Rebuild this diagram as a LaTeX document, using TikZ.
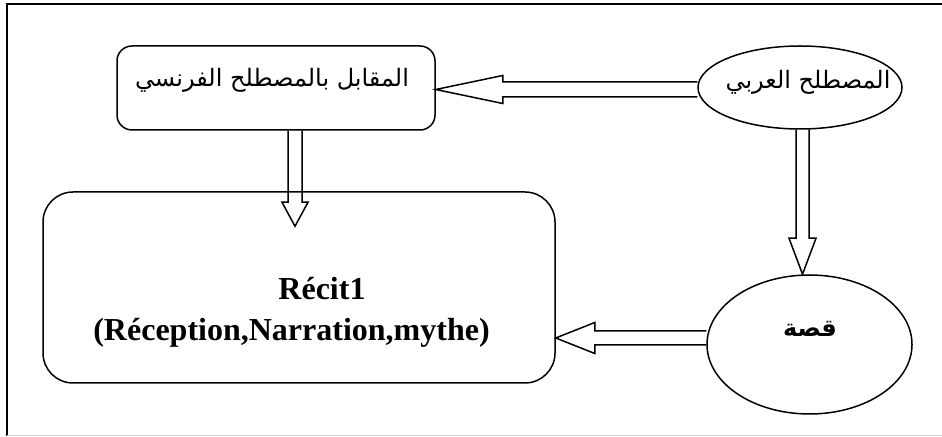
\documentclass[tikz,border=0pt]{standalone}
\usepackage{fontspec}
\setmainfont{Liberation Serif}
\newfontfamily\arabicfont[Script=Arabic]{DejaVu Sans}
\TeXXeTstate=1
\usetikzlibrary{calc,shapes.geometric}

\tikzset{
    shapeline/.style={draw, line width=0.75pt},
    termbox/.style={shapeline, rectangle, rounded corners=7.5pt, minimum width=159pt, minimum height=42pt},
    bigbox/.style={shapeline, rectangle, rounded corners=15pt, minimum width=256pt, minimum height=95.5pt},
    termell/.style={shapeline, ellipse, inner sep=0pt},
    arrowline/.style={line width=0.75pt, line join=miter},
    artext/.style={font=\arabicfont\fontsize{12}{14}\selectfont, inner sep=0pt},
    frtext/.style={font=\bfseries\fontsize{16}{19}\selectfont, inner sep=0pt}
}

% hollow block arrow: start, tip, head length, shaft half width, head half width
\newcommand{\hollowarrow}[5]{%
    \coordinate (hb) at ($(#2)!#3!(#1)$);
    \draw[arrowline] ($(#1)!#4!90:(#2)$) -- ($(hb)!#4!90:(#2)$) -- ($(hb)!#5!90:(#2)$)
        -- (#2) -- ($(hb)!#5!-90:(#2)$) -- ($(hb)!#4!-90:(#2)$) -- ($(#1)!#4!-90:(#2)$);
}

\begin{document}
\begin{tikzpicture}[x=0.5pt, y=-0.5pt]
    \useasboundingbox (0,0) rectangle (942,437);

    % Draw frame
    \draw[line width=1pt] (6.5,436) -- (6.5,4) -- (942,4);
    \draw[gray!35, line width=0.5pt] (6.5,436) -- (942,436);

    % Draw terms
    \node[termbox] (french) at (276,88) {};
    \node[artext] (frenchlabel) at (272,80) {\beginR المقابل بالمصطلح الفرنسي\endR};

    \node[termell, minimum width=102pt, minimum height=41.5pt] (arabic) at (800,87.5) {};
    \node[artext] (arabiclabel) at (808,82) {\beginR المصطلح العربي\endR};

    \node[termell, minimum width=102.5pt, minimum height=69.5pt] (qissa) at (809.5,344.5) {};
    \node[artext, font=\arabicfont\bfseries\fontsize{12}{14}\selectfont] (qissalabel) at (810,329) {\beginR قصة\endR};

    \node[bigbox] (recit) at (299,287.5) {};
    \node[frtext] (recittitle) at (322,289) {Récit1};
    \node[frtext] (recitlist) at (291.5,333) {(Réception,Narration,mythe)};

    % Draw arrows
    \coordinate (a1s) at ([yshift=-1pt]arabic.west);
    \coordinate (a1t) at (french.east |- a1s);
    \hollowarrow{a1s}{a1t}{33.5pt}{3.75pt}{7pt}

    \coordinate (a2s) at ([xshift=9.5pt]french.south);
    \coordinate (a2t) at ([yshift=-17.5pt]a2s |- recit.north);
    \hollowarrow{a2s}{a2t}{12pt}{3.5pt}{6.5pt}

    \coordinate (a3s) at ([xshift=1.25pt]arabic.south);
    \coordinate (a3t) at (a3s |- qissa.north);
    \hollowarrow{a3s}{a3t}{18pt}{3.25pt}{6.75pt}

    \coordinate (a4s) at ([yshift=3.25pt]qissa.west);
    \coordinate (a4t) at (recit.east |- a4s);
    \hollowarrow{a4s}{a4t}{19.5pt}{3.5pt}{7.75pt}
\end{tikzpicture}
\end{document}
